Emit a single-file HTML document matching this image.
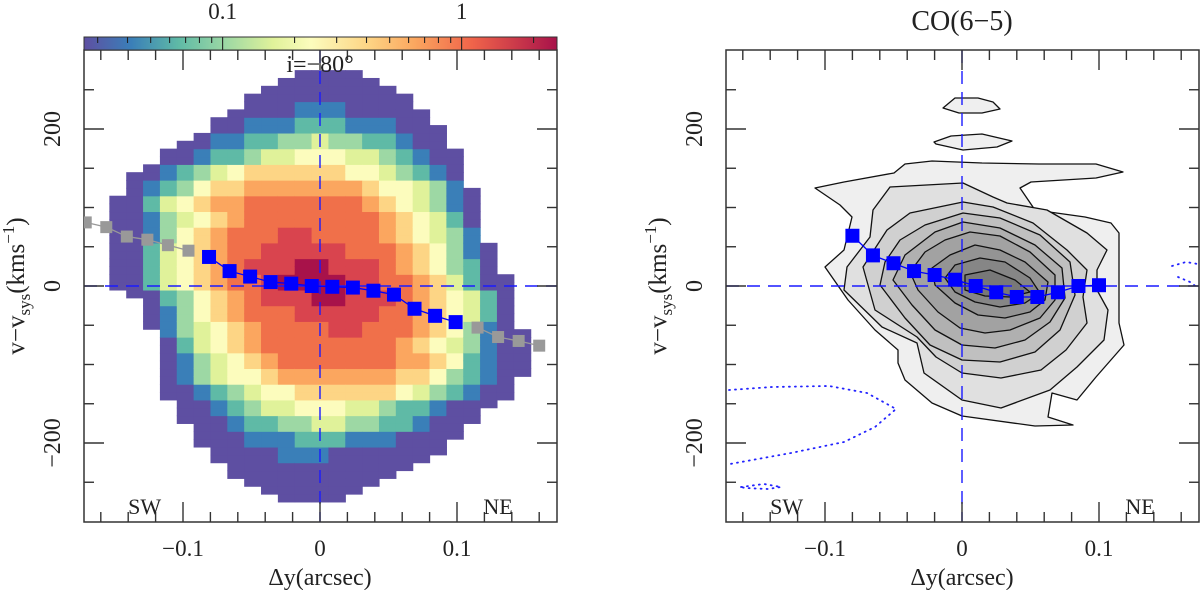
<!DOCTYPE html>
<html><head><meta charset="utf-8">
<style>
html,body{margin:0;padding:0;background:#fff;}
svg{display:block;font-family:"Liberation Serif",serif;}
</style></head>
<body>
<svg id="fig" width="1200" height="590" viewBox="0 0 1200 590" xmlns="http://www.w3.org/2000/svg">
<defs>
<clipPath id="clipL"><rect x="84" y="50" width="473" height="472"/></clipPath>
<clipPath id="clipR"><rect x="726" y="50" width="473" height="472"/></clipPath>
<linearGradient id="cbar" x1="0" x2="1" y1="0" y2="0">
<stop offset="0" stop-color="#5e4fa2"/><stop offset="0.1" stop-color="#3a7fb8"/>
<stop offset="0.2" stop-color="#5fbaa6"/><stop offset="0.3" stop-color="#9dd8a4"/>
<stop offset="0.4" stop-color="#e0f29a"/><stop offset="0.48" stop-color="#fcfcbd"/>
<stop offset="0.6" stop-color="#fdd585"/><stop offset="0.7" stop-color="#fba65f"/>
<stop offset="0.82" stop-color="#f0644a"/><stop offset="1" stop-color="#a8124a"/>
</linearGradient>
</defs>
<g id="left"></g>
<g id="right"></g>
</svg>
<script>
// ---- data: left heatmap ----
const colIndex = [-12,-11,-10,-9,-8,-7,-6,-5,-4,-3,-2,-1,0,1,2,3,4,5,6,7,8,9,10,11,12];
const colTop = [110,140,150,170,180,190,210,220,240,250,260,270,270,270,270,260,250,240,220,200,170,120,50,10,-60];
const colBottom = [0,-10,-50,-140,-170,-200,-220,-240,-250,-260,-270,-270,-270,-270,-260,-250,-240,-230,-220,-210,-190,-170,-150,-140,-110];
const gridVel = [280,260,240,220,200,180,160,140,120,100,80,60,40,20,0,-20,-40,-60,-80,-100,-120,-140,-160,-180,-200,-220,-240,-260,-280];
const gridLevels = [
"0000000000000000000000000",
"0000000000000000000000000",
"0000000000000000000000000",
"0000000000011100000000000",
"0000000011122211100000000",
"0000001122334332210000000",
"0000012234455544321000000",
"0001234566666655432100000",
"0012356677777776554310000",
"0024567788888887654310000",
"0013456788888888765420000",
"0013567888998888765431000",
"0024567889999988876531000",
"00245678999aa999876532000",
"0024567889aaaa99887642000",
"000235678999aa99987654200",
"0001356788899999887654200",
"0001345678888998887653100",
"0000245678888888876543100",
"0000134567888888877652100",
"0000134556777777766532100",
"0000012345566666654321000",
"0000001234455544322100000",
"0000000122334433221000000",
"0000000011122211100000000",
"0000000000111000000000000",
"0000000000000000000000000",
"0000000000000000000000000",
"0000000000000000000000000"];
const levelColors = ["#5e4fa2","#3a7fb8","#5fbaa6","#9dd8a4","#e0f29a","#fcfcbd","#fdd585","#fba65f","#f0704a","#d9444e","#a8124a"];
// ---- data: left rotation curve ----
const blueXL = [-0.081,-0.066,-0.051,-0.036,-0.021,-0.006,0.009,0.024,0.039,0.054,0.069,0.084,0.099];
const blueVL = [37,19,12,5,3,0,-1,-2,-6,-11,-29,-38,-46];
const greyX1 = [-0.171,-0.156,-0.141,-0.126,-0.111,-0.096];
const greyV1 = [81,75,63,59,52,45];
const greyX2 = [0.115,0.130,0.145,0.160];
const greyV2 = [-53,-65,-70,-76];
// ---- data: right panel ----
const blueXR = [-0.080,-0.065,-0.050,-0.035,-0.020,-0.005,0.010,0.025,0.040,0.055,0.070,0.085,0.100];
const blueVR = [64,39,29,19,14,8,0,-8,-14,-14,-8,0,1];
const contourPx = [
[[815,188],[844,182],[894,173],[905,164],[932,161],[982,163],[1039,164],[1096,164],[1123,172],[1096,178],[1031,182],[1020,188],[1035,210],[1085,217],[1111,223],[1119,233],[1119,253],[1119,323],[1124,345],[1096,377],[1077,400],[1052,393],[1048,417],[1073,425],[1035,426],[962,416],[932,403],[905,380],[898,363],[898,350],[875,330],[848,300],[825,267],[844,250],[852,217],[840,205]],
[[890,187],[963,183],[993,197],[1007,203],[1047,210],[1087,233],[1107,250],[1097,270],[1097,290],[1108,310],[1104,340],[1077,367],[1050,390],[1001,408],[962,400],[924,373],[917,343],[882,327],[844,290],[847,267],[870,237],[873,210]],
[[910,213],[963,202],[993,207],[1033,223],[1067,250],[1087,270],[1083,297],[1087,323],[1066,350],[1041,370],[1001,378],[962,373],[936,357],[917,337],[875,310],[863,267],[887,230]],
[[925,225],[963,213],[1000,218],[1040,235],[1070,262],[1075,295],[1060,330],[1035,352],[1000,362],[962,360],[930,345],[905,318],[880,285],[885,262],[900,240]],
[[935,232],[963,222],[1000,228],[1035,245],[1062,268],[1065,298],[1050,322],[1025,340],[995,348],[962,345],[935,330],[912,305],[893,280],[905,255]],
[[945,240],[970,232],[1000,236],[1030,252],[1055,275],[1055,300],[1040,318],[1010,330],[985,333],[960,328],[938,312],[918,290],[910,272],[925,252]],
[[950,255],[975,245],[1000,250],[1025,262],[1048,282],[1045,300],[1030,312],[1005,318],[978,315],[955,303],[935,285],[932,268]],
[[955,265],[980,258],[1005,262],[1030,278],[1040,293],[1025,303],[1000,307],[975,302],[955,292],[945,278]],
[[965,275],[990,270],[1015,280],[1030,292],[1010,297],[985,296],[965,290]],
[[943,108],[955,98],[978,98],[993,102],[1000,109],[982,113],[959,113]],
[[934,142],[951,136],[982,134],[1012,141],[997,147],[963,150],[936,144]]];
const contourFill = ["#efefef","#e0e0e0","#d0d0d0","#c0c0c0","#b0b0b0","#a2a2a2","#949494","#868686","#787878","#efefef","#efefef"];
const negContourPx = [
[[729,390],[772,387],[829,386],[867,393],[896,409],[875,427],[844,442],[791,453],[730,464]],
[[741,487],[764,484],[781,487],[768,489],[745,488],[741,487]],
[[1172,266],[1186,262],[1198,264]],
[[1178,277],[1190,282],[1198,288]]];

// ---- helpers ----
const NS="http://www.w3.org/2000/svg";
function mk(tag,attrs,parent){const e=document.createElementNS(NS,tag);for(const k in attrs)e.setAttribute(k,attrs[k]);parent.appendChild(e);return e;}
const vy = v => 286 - v*0.785;
const xL = x => 320 + x*1370;
const xR = x => 962 + x*1370;
const pxToX = px => (px-962)/1370;
const pyToV = py => (286-py)/0.785;
const L=document.getElementById('left'), R=document.getElementById('right');

// ---- left heatmap ----
const heat=mk('g',{'clip-path':'url(#clipL)'},L);


const cellW=0.0123;
colIndex.forEach((k,i)=>{
  for(let v=colBottom[i]; v<=colTop[i]; v+=10){
    const r=Math.min(gridVel.length-1,Math.max(0,Math.round((280-v)/20)));
    const ch=gridLevels[r][i];
    const lev=ch==='a'?10:parseInt(ch,10);
    const x0=xL(k*cellW-cellW/2), x1=xL(k*cellW+cellW/2);
    const c=mk('rect',{x:x0.toFixed(2),y:vy(v+5).toFixed(2),width:(x1-x0+0.6).toFixed(2),height:(0.785*10+0.6).toFixed(2),fill:levelColors[lev]},heat);
    
    
  }
});

// ---- panel furniture ----
function panel(g,x0,xf,clip){
  const dl=mk('g',{'clip-path':`url(#${clip})`},g);
  
  
  mk('line',{x1:x0,x2:x0+473,y1:vy(0),y2:vy(0),stroke:'#1a1aff','stroke-width':1.4,'stroke-dasharray':'13 8'},dl);
  mk('line',{x1:xf(0),x2:xf(0),y1:50,y2:522,stroke:'#1a1aff','stroke-width':1.4,'stroke-dasharray':'13 8'},dl);
  const fr=mk('rect',{x:x0,y:50,width:473,height:472,fill:'none',stroke:'#333','stroke-width':1.5},g);
  
  
  const tk=mk('g',{stroke:'#333','stroke-width':1.4},g);
  
  
  for(let i=-8;i<=8;i++){
    const x=xf(i*0.02); const len=(i%5===0)?20:10;
    if(x<x0||x>x0+473) continue;
    mk('line',{x1:x,x2:x,y1:522,y2:522-len},tk);
    mk('line',{x1:x,x2:x,y1:50,y2:50+len},tk);
  }
  for(let v=-250;v<=250;v+=50){
    const len=(v%200===0)?20:10;
    mk('line',{x1:x0,x2:x0+len,y1:vy(v),y2:vy(v)},tk);
    mk('line',{x1:x0+473,x2:x0+473-len,y1:vy(v),y2:vy(v)},tk);
  }
  [[-0.1,'−0.1'],[0,'0'],[0.1,'0.1']].forEach(([x,s])=>{
    const t=mk('text',{x:xf(x),y:556,'font-size':23,'text-anchor':'middle',fill:'#222'},g);
    t.textContent=s;
    
    
  });
  [[200,'200'],[0,'0'],[-200,'−200']].forEach(([v,s])=>{
    const t=mk('text',{x:0,y:0,'font-size':24,'text-anchor':'middle',fill:'#222',transform:`translate(${x0-24},${vy(v)}) rotate(-90)`},g);
    t.textContent=s;
    
    
  });
  const xt=mk('text',{x:xf(0),y:585,'font-size':24,'text-anchor':'middle',fill:'#222'},g);
  xt.textContent='Δy(arcsec)';
  
  
  const yt=mk('text',{x:0,y:0,'font-size':25,'text-anchor':'middle',fill:'#222',transform:`translate(${x0-60},${vy(0)}) rotate(-90)`},g);
  yt.innerHTML='v−v<tspan font-size="17" dy="6">sys</tspan><tspan dy="-6">(kms</tspan><tspan font-size="17" dy="-10">−1</tspan><tspan dy="10">)</tspan>';
  
  
  const sw=mk('text',{x:xf(-0.128),y:514,'font-size':22,'text-anchor':'middle',fill:'#222'},g);
  sw.textContent='SW';
  
  
  const ne=mk('text',{x:xf(0.130),y:514,'font-size':22,'text-anchor':'middle',fill:'#222'},g);
  ne.textContent='NE';
  
  
}

function markers(g,xs,vs,xf,color,size,clip,name){
  const s=mk('g',{'clip-path':`url(#${clip})`},g);
  
  
  mk('polyline',{points:xs.map((x,i)=>xf(x)+','+vy(vs[i])).join(' '),fill:'none',stroke:color,'stroke-width':1.3},s);
  xs.forEach((x,i)=>{
    const r=mk('rect',{x:xf(x)-size/2,y:vy(vs[i])-size/2,width:size,height:size,fill:color},s);
    
    
  });
}

// ---- left panel ----
panel(L,84,xL,'clipL');
markers(L,greyX1,greyV1,xL,'#999999',12,'clipL','grey-markers-sw');
markers(L,greyX2,greyV2,xL,'#999999',12,'clipL','grey-markers-ne');
markers(L,blueXL,blueVL,xL,'#0000ff',14,'clipL','blue-markers-left');
const inc=mk('text',{x:320,y:72,'font-size':24,'text-anchor':'middle',fill:'#222'},L);
inc.textContent='i=−80°';



// colorbar
const cb=mk('g',{},L);


mk('rect',{x:84,y:37,width:473,height:13,fill:'url(#cbar)',stroke:'#333','stroke-width':1},cb);
const cbx=val=>84+(Math.log10(val)+1.58)*239;
const cbTicks=[0.03,0.04,0.05,0.06,0.07,0.08,0.09,0.1,0.2,0.3,0.4,0.5,0.6,0.7,0.8,0.9,1,2];
cbTicks.forEach(t=>{
  const major=(t===0.1||t===1);
  mk('line',{x1:cbx(t),x2:cbx(t),y1:37,y2:major?50:43,stroke:'#222','stroke-width':1.1},cb);
});
[[0.1,'0.1'],[1,'1']].forEach(([v,s])=>{
  const t=mk('text',{x:cbx(v),y:19,'font-size':23,'text-anchor':'middle',fill:'#222'},cb);
  t.textContent=s;
  
  
});

// ---- right panel ----
const cg=mk('g',{'clip-path':'url(#clipR)'},R);


contourPx.forEach((poly,i)=>{
  const pts=poly.map(([px,py])=>xR(pxToX(px)).toFixed(1)+','+vy(pyToV(py)).toFixed(1)).join(' ');
  const p=mk('polygon',{points:pts,fill:contourFill[i],stroke:'#111','stroke-width':1.3,'stroke-linejoin':'round'},cg);
  
  
});
negContourPx.forEach(poly=>{
  const pts=poly.map(([px,py])=>xR(pxToX(px)).toFixed(1)+','+vy(pyToV(py)).toFixed(1)).join(' ');
  const p=mk('polyline',{points:pts,fill:'none',stroke:'#2222ff','stroke-width':1.8,'stroke-dasharray':'1 5','stroke-linecap':'round'},cg);
  
  
});
panel(R,726,xR,'clipR');
markers(R,blueXR,blueVR,xR,'#0000ff',14,'clipR','blue-markers-right');
const ti=mk('text',{x:962,y:30,'font-size':28,'text-anchor':'middle',fill:'#222'},R);
ti.textContent='CO(6−5)';


</script>
</body></html>
